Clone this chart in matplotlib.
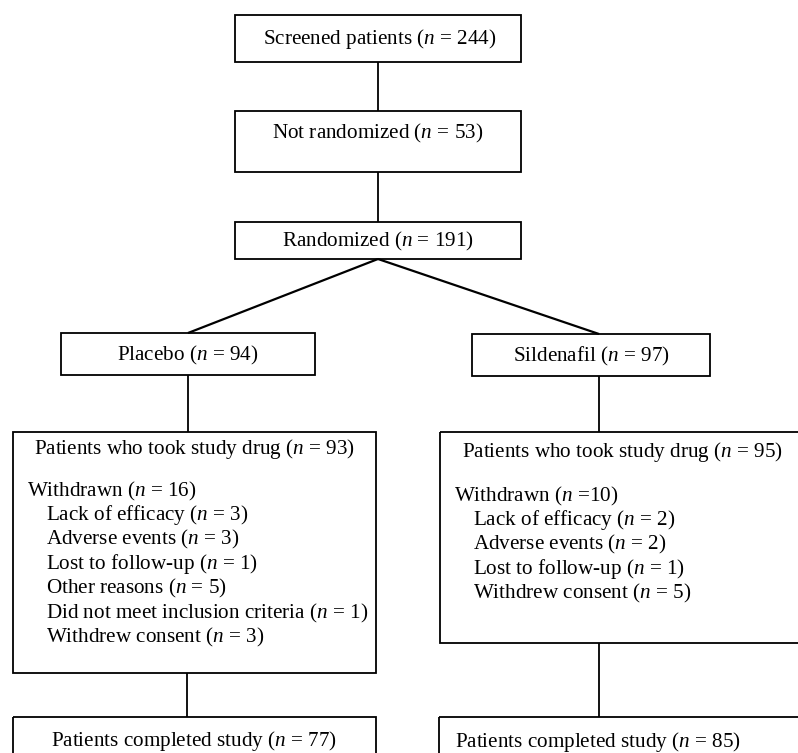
import matplotlib
matplotlib.use("Agg")
import matplotlib.pyplot as plt
from matplotlib.patches import Rectangle

plt.rcParams['font.family'] = ['Liberation Serif', 'DejaVu Serif']
plt.rcParams['mathtext.fontset'] = 'custom'
plt.rcParams['mathtext.rm'] = 'Liberation Serif'
plt.rcParams['mathtext.it'] = 'Liberation Serif:italic'

# ---- data ----
screened_n = 244
not_randomized_n = 53
randomized_n = 191
arm_names = ["Placebo", "Sildenafil"]
arm_n = [94, 97]
took_drug_n = [93, 95]
withdrawn_n = [16, 10]
placebo_reasons = ["Lack of efficacy", "Adverse events", "Lost to follow-up", "Other reasons",
                   "Did not meet inclusion criteria", "Withdrew consent"]
placebo_reason_n = [3, 3, 1, 5, 1, 3]
sildenafil_reasons = ["Lack of efficacy", "Adverse events", "Lost to follow-up", "Withdrew consent"]
sildenafil_reason_n = [2, 2, 1, 5]
completed_n = [77, 85]

W, H = 798, 753
fig = plt.figure(figsize=(W / 100, H / 100), dpi=100)
ax = fig.add_axes([0, 0, 1, 1])
ax.set_xlim(0, W)
ax.set_ylim(H, 0)
ax.axis('off')

LW = 1.3
FS = 15.2

def box(x0, y0, x1, y1):
    ax.add_patch(Rectangle((x0, y0), x1 - x0, y1 - y0, fill=False, lw=LW, ec='black', clip_on=True))

def line(xs, ys, lw=LW):
    ax.plot(xs, ys, color='black', lw=lw, solid_capstyle='butt')

def txt(x, y, s, ha='center'):
    ax.text(x, y, s, ha=ha, va='center', fontsize=FS, color='black')

def nlab(label, n, eq=' = '):
    return f"{label} ($n${eq}{n})"

# top chain
box(235, 15, 521, 62)
txt(380, 39, nlab("Screened patients", screened_n))
line([378, 378], [62, 111])
box(235, 111, 521, 172)
txt(378, 133, nlab("Not randomized", not_randomized_n))
line([378, 378], [172, 222])
box(235, 222, 521, 259)
txt(378, 241, nlab("Randomized", randomized_n))

# arms
arm_boxes = [(61, 333, 315, 375), (472, 334, 710, 376)]
arm_cx = [188, 599]
for (x0, y0, x1, y1), cx, name, n in zip(arm_boxes, arm_cx, arm_names, arm_n):
    line([378, cx], [259, y0], lw=1.6)
    box(x0, y0, x1, y1)
    txt((x0 + x1) / 2, (y0 + y1) / 2 + 1, nlab(name, n))
    line([cx, cx], [y1, 432])

# big boxes
big_boxes = [(13, 432, 376, 673), (440, 432, 812, 643)]
reasons_all = [placebo_reasons, sildenafil_reasons]
reason_n_all = [placebo_reason_n, sildenafil_reason_n]
head_y = [449, 452]
wd_y = [491, 496]
step = 24.4
for i, (x0, y0, x1, y1) in enumerate(big_boxes):
    box(x0, y0, x1, y1)
    if i == 0:
        txt((x0 + x1) / 2, head_y[i], nlab("Patients who took study drug", took_drug_n[i]))
    else:
        txt(462, head_y[i], nlab("Patients who took study drug", took_drug_n[i]), ha='left')
    txt(x0 + 14, wd_y[i], nlab("Withdrawn", withdrawn_n[i], eq=' =' if i == 1 else ' = '), ha='left')
    for k, (r, rn) in enumerate(zip(reasons_all[i], reason_n_all[i])):
        txt(x0 + 33, wd_y[i] + step * (k + 1), nlab(r, rn), ha='left')

# connectors to completed
line([187, 187], [673, 717])
line([599, 599], [643, 717])
box(13, 717, 376, 770)
txt(194, 741, nlab("Patients completed study", completed_n[0]))
box(439, 717, 812, 770)
txt(598, 742, nlab("Patients completed study", completed_n[1]))

fig.savefig("out.png", dpi=100)
